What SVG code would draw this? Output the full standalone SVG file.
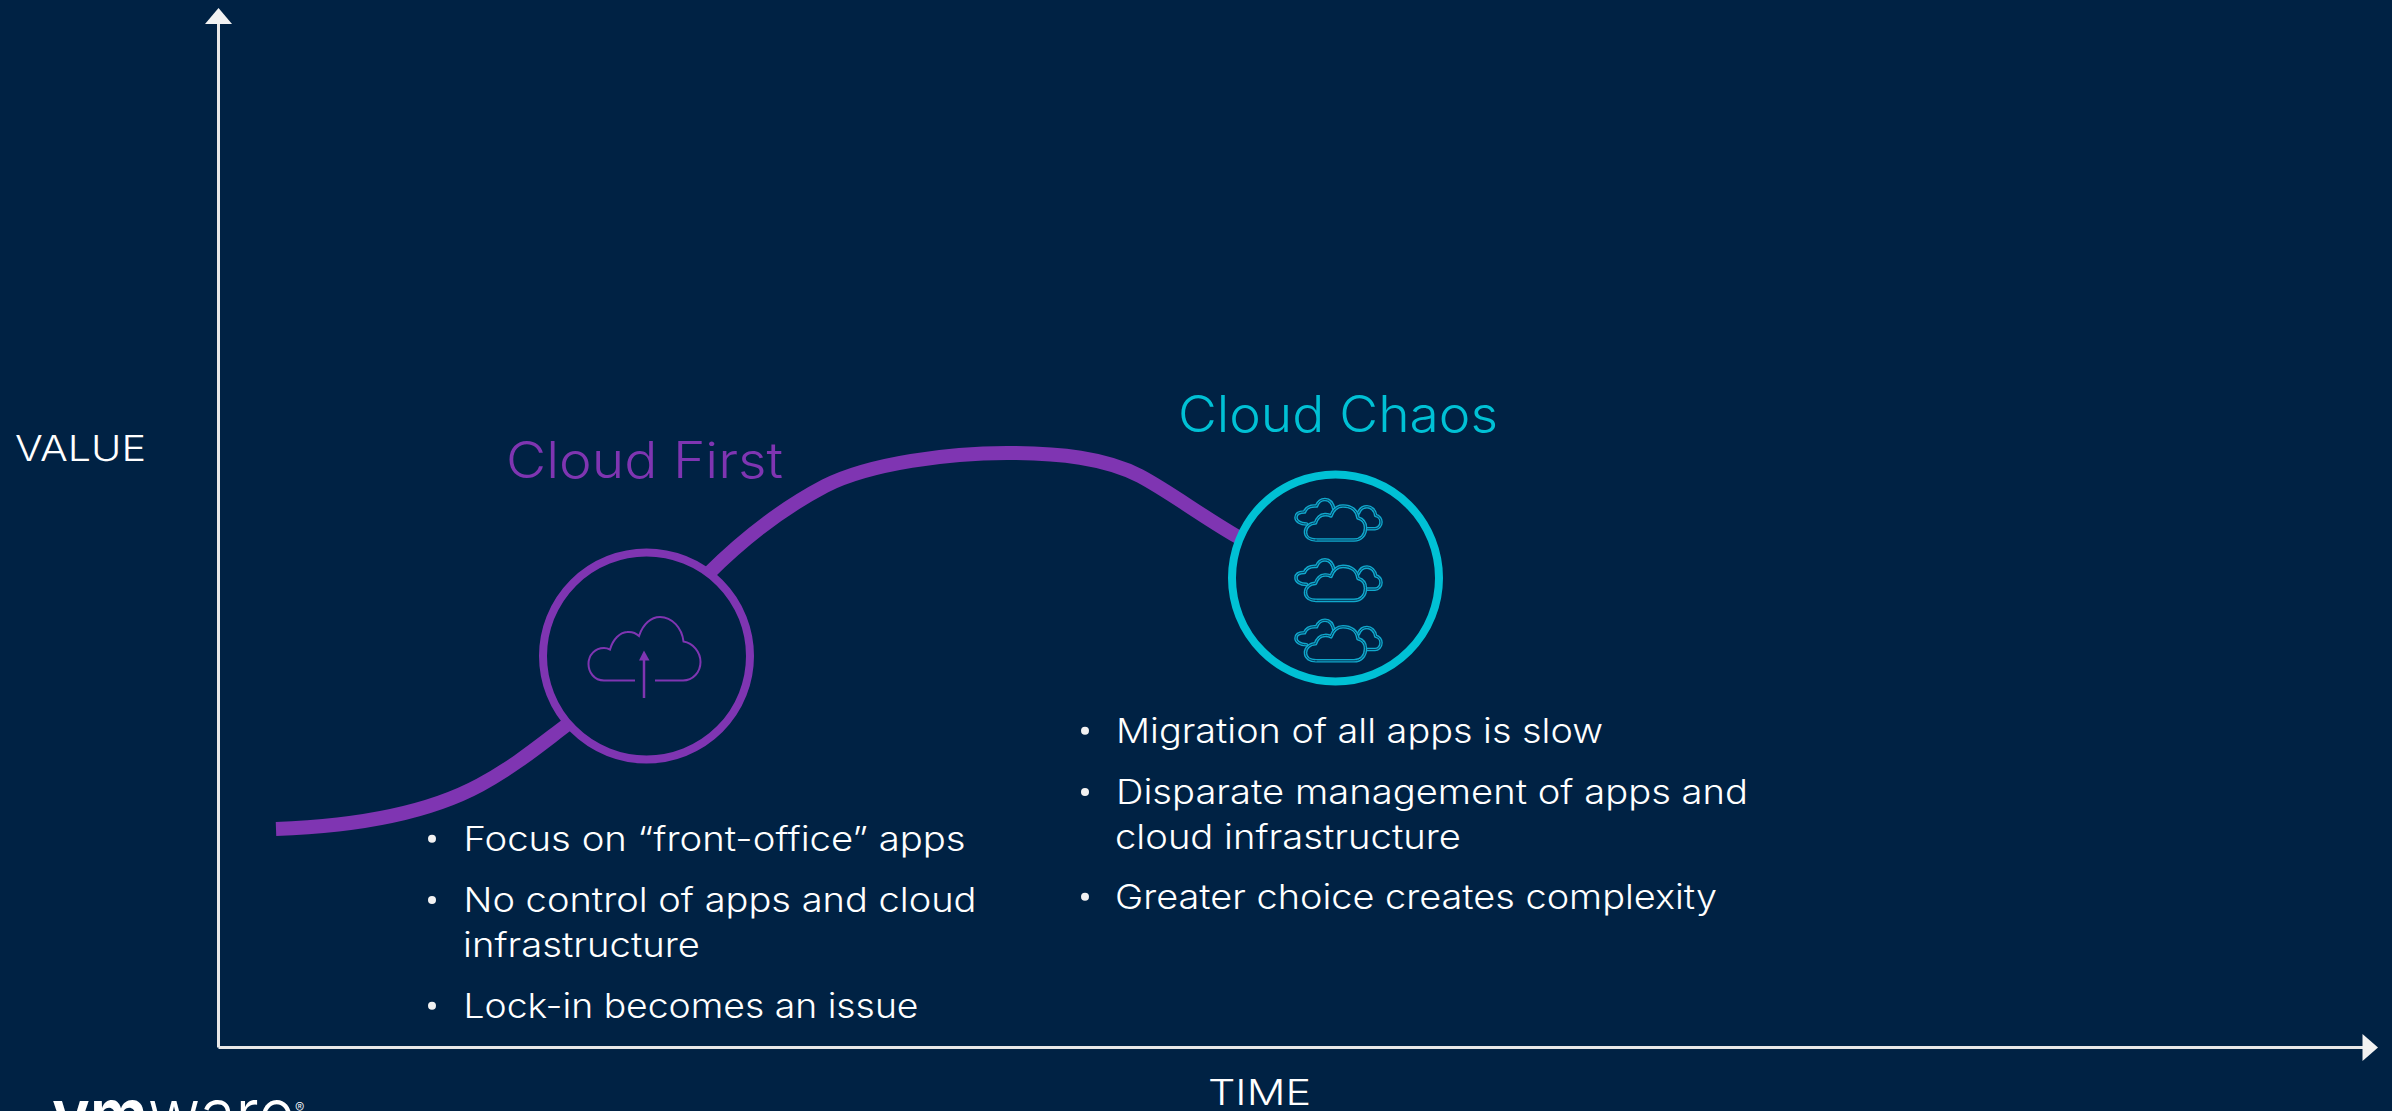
<svg xmlns="http://www.w3.org/2000/svg" xmlns:xlink="http://www.w3.org/1999/xlink" width="2392" height="1111" viewBox="0 0 2392 1111">
<style>
text{font-family:"Inter","Liberation Sans",sans-serif;font-weight:300;fill:#fff}
.b{font-size:34px}
.t{font-size:50px}
.a{font-size:36px}
.dot{fill:#f2f2f2}
.purple{fill:#7f35b2}
.cyan{fill:#00c1d5}
.ring{fill:#002244;stroke-width:8}
.ax{stroke:#e8e8e8;stroke-width:3;fill:none}
.head{fill:#f2f2f2}
.co{fill:none;stroke:#10a8cc;stroke-width:3.6;stroke-linecap:round;stroke-linejoin:round}
.ci{fill:none;stroke:#002244;stroke-width:.8;stroke-linecap:round;stroke-linejoin:round}
</style>
<defs>
<path id="big" d="M1316 540H1354C1361 540 1365.500 535 1365.500 528C1365.500 522 1362 519 1358 518C1357 510 1351 506 1343 506C1337 506 1333 510 1331 516C1328 514 1322 514 1319 517C1317 519 1316 521 1315.500 523C1310 523 1305.500 527 1305.500 532C1305.500 537 1310 540 1316 540Z"/>
<path id="lft" d="M1306.500 524C1300 524 1296 521 1296 517.500C1296 513 1300 512 1304.500 512C1306 508 1310 505.500 1316.500 506C1318 502 1321 499.500 1325 499.500C1330 499.500 1333 504 1334 510"/>
<path id="rgt" d="M1358.500 513C1360 509 1363 506.700 1367 506.700C1371 506.700 1375 510 1375.700 515.500C1379 516 1381 519 1381 522C1381 526 1378 528.700 1375 528.700H1366.500"/>
<g id="clouds">
<use xlink:href="#lft" class="co"/><use xlink:href="#lft" class="ci"/>
<use xlink:href="#rgt" class="co"/><use xlink:href="#rgt" class="ci"/>
<use xlink:href="#big" class="co"/><use xlink:href="#big" class="ci"/>
</g>
</defs>
<rect width="2392" height="1111" fill="#002244"/>
<g id="connectors">
<path d="M218.500 1047.500V20" class="ax"/>
<path d="M218.500 1047.500H2366" class="ax"/>
<path d="M218.500 8L232 24H205Z" class="head"/>
<path d="M2378 1047.500L2362.500 1061V1034Z" class="head"/>
<path d="M276 829C360 826 430 812 480 785C515 766 540 745 568 724" fill="none" stroke="#7f35b2" stroke-width="14"/>
<path d="M708 574C748 534 785 507 825 486C870 463 950 453 1007 453C1060 453 1105 458 1140 476C1170 492 1200 515 1238 537" fill="none" stroke="#7f35b2" stroke-width="14"/>
</g>
<g id="axis-value"><text x="15" y="461" class="a" textLength="131" lengthAdjust="spacingAndGlyphs">VALUE</text></g>
<g id="axis-time"><text x="1208" y="1105" class="a" textLength="103" lengthAdjust="spacingAndGlyphs">TIME</text></g>
<g id="cloud-first">
<text x="506" y="478" class="t purple" textLength="277" lengthAdjust="spacingAndGlyphs">Cloud First</text>
<circle cx="646.500" cy="656" r="103.500" class="ring" stroke="#7f35b2"/>
<path d="M635 680.500H604C594 680.500 588.500 672 588.500 664C588.500 655 595 648 604 648C606 648 608 648.500 610 649.500C613 639 620 632.500 627 632C632 631.500 636 633 639 636C643 624 651 617 660 617C672 617 682 628 683.500 641.500C693 643 700.500 652 700.500 662C700.500 672 693 680.500 683 680.500H655" fill="none" stroke="#7f35b2" stroke-width="2"/>
<path d="M644 698V660" stroke="#7f35b2" stroke-width="2.500" fill="none"/>
<path d="M644 650.500L649.500 660.500H639Z" class="purple"/>
</g>
<g id="cloud-chaos">
<text x="1178" y="432" class="t cyan" textLength="320" lengthAdjust="spacingAndGlyphs">Cloud Chaos</text>
<circle cx="1335.500" cy="578" r="103.500" class="ring" stroke="#00c1d5"/>
<use xlink:href="#clouds"/>
<use xlink:href="#clouds" y="60.400"/>
<use xlink:href="#clouds" y="120.800"/>
</g>
<g id="first-bullets">
<circle cx="432" cy="838.700" r="4" class="dot"/>
<circle cx="432" cy="900" r="4" class="dot"/>
<circle cx="432" cy="1005.700" r="4" class="dot"/>
<text x="463.500" y="851" class="b" textLength="502" lengthAdjust="spacingAndGlyphs">Focus on “front-office” apps</text>
<text x="463.500" y="911.700" class="b" textLength="513" lengthAdjust="spacingAndGlyphs">No control of apps and cloud</text>
<text x="463" y="956.700" class="b" textLength="237" lengthAdjust="spacingAndGlyphs">infrastructure</text>
<text x="463.500" y="1017.700" class="b" textLength="455" lengthAdjust="spacingAndGlyphs">Lock-in becomes an issue</text>
</g>
<g id="chaos-bullets">
<circle cx="1085" cy="730.700" r="4" class="dot"/>
<circle cx="1085" cy="792" r="4" class="dot"/>
<circle cx="1085" cy="896.700" r="4" class="dot"/>
<text x="1116" y="743" class="b" textLength="487" lengthAdjust="spacingAndGlyphs">Migration of all apps is slow</text>
<text x="1116" y="804" class="b" textLength="632" lengthAdjust="spacingAndGlyphs">Disparate management of apps and</text>
<text x="1115" y="849" class="b" textLength="346" lengthAdjust="spacingAndGlyphs">cloud infrastructure</text>
<text x="1115" y="908.600" class="b" textLength="602" lengthAdjust="spacingAndGlyphs">Greater choice creates complexity</text>
</g>
<g id="logo">
<text x="52" y="1140" font-size="72" textLength="243" lengthAdjust="spacingAndGlyphs"><tspan style="font-weight:600">vm</tspan>ware</text>
<text x="295" y="1113" font-size="14">®</text>
</g>
</svg>
